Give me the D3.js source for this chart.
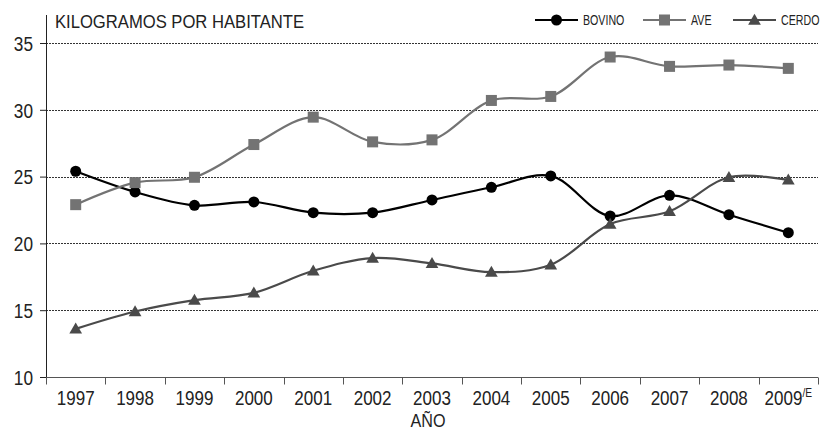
<!DOCTYPE html>
<html>
<head>
<meta charset="utf-8">
<script src="https://cdn.jsdelivr.net/npm/d3@7"></script>
<style>
  body { margin: 0; background: #fff; }
  text { font-family: "Liberation Sans", Arial, sans-serif; fill: #222; }
</style>
</head>
<body>
<div id="chart"></div>
<script>
// consumo per capita, kg por habitante
var years = ["1997", "1998", "1999", "2000", "2001", "2002", "2003", "2004", "2005", "2006", "2007", "2008", "2009"];
var bovino = [25.4, 23.85, 22.85, 23.1, 22.3, 22.3, 23.25, 24.2, 25.05, 22.05, 23.6, 22.15, 20.8];
var ave    = [22.9, 24.55, 24.95, 27.4, 29.45, 27.6, 27.75, 30.7, 31.0, 33.95, 33.25, 33.35, 33.1];
var cerdo  = [13.6, 14.9, 15.75, 16.3, 17.95, 18.9, 18.5, 17.85, 18.4, 21.45, 22.4, 24.95, 24.75];
var yTicks = [10, 15, 20, 25, 30, 35];

var series = [
  {name: "BOVINO", values: bovino, color: "#000", marker: "circle"},
  {name: "AVE", values: ave, color: "#737373", marker: "square"},
  {name: "CERDO", values: cerdo, color: "#4a4a4a", marker: "triangle"}
];

var margin = {top: 43, right: 4, bottom: 62, left: 46},
    width = 822 - margin.left - margin.right,
    height = 439 - margin.top - margin.bottom;

// squeeze text horizontally, the original uses a narrow face
function condense(sel, f) {
  sel.each(function() {
    var L = this.getComputedTextLength();
    d3.select(this).attr("textLength", L * f).attr("lengthAdjust", "spacingAndGlyphs");
  });
}

var svg = d3.select("#chart")
  .append("svg")
  .attr("width", 822)
  .attr("height", 439)
  .append("g")
  .attr("transform", "translate(" + margin.left + "," + margin.top + ")");

var x = d3.scaleBand()
  .domain(years)
  .range([0, width]);

var y = d3.scaleLinear()
  .domain([10, 35])
  .range([height, 0]);

// dotted gridlines
svg.selectAll(".grid")
  .data(yTicks.filter(d => d > 10))
  .enter().append("line")
  .attr("x1", 0)
  .attr("x2", width)
  .attr("y1", d => Math.round(y(d)) + 0.5)
  .attr("y2", d => Math.round(y(d)) + 0.5)
  .style("stroke", "#333")
  .style("stroke-dasharray", "2,1")
  .style("stroke-width", 1);

// y axis
var yAxis = svg.append("g")
  .call(d3.axisLeft(y).tickValues(yTicks).tickSize(6).tickPadding(7));
yAxis.select(".domain").attr("d", "M0.5," + (y(10) + 0.5) + "V-28").style("stroke", "#222");
yAxis.selectAll(".tick line").style("stroke", "#222");
yAxis.selectAll("text").style("font-size", "20px").attr("dy", "0.36em").style("fill", "#222");
condense(yAxis.selectAll("text"), 0.86);

// x axis
var xAxis = svg.append("g")
  .attr("transform", "translate(0," + (Math.round(y(10)) + 0.5) + ")");
xAxis.append("line")
  .attr("x1", 0).attr("x2", width)
  .style("stroke", "#555");
xAxis.selectAll(".xt")
  .data(years.concat(["end"]))
  .enter().append("line")
  .attr("x1", (d, i) => Math.round(i * x.step()) + 0.5)
  .attr("x2", (d, i) => Math.round(i * x.step()) + 0.5)
  .attr("y1", 0).attr("y2", 7)
  .style("stroke", "#555");
var xl = xAxis.selectAll(".xl")
  .data(years)
  .enter().append("text")
  .attr("x", d => x(d) + x.bandwidth() / 2)
  .attr("y", 27)
  .attr("text-anchor", "middle")
  .style("font-size", "20px");
xl.text(d => d);
xl.filter(d => d == "2009").append("tspan")
  .attr("dy", "-8")
  .style("font-size", "12px")
  .text("/E");
condense(xl, 0.85);

var xTitle = svg.append("text")
  .attr("x", width / 2 - 4)
  .attr("y", height + 50)
  .attr("text-anchor", "middle")
  .style("font-size", "19px")
  .text("AÑO");
condense(xTitle, 0.85);

svg.append("text")
  .attr("x", 9)
  .attr("y", -15)
  .style("font-size", "18.5px")
  .attr("textLength", 249)
  .attr("lengthAdjust", "spacingAndGlyphs")
  .text("KILOGRAMOS POR HABITANTE");

function drawMarker(g, type, color) {
  if (type == "circle") {
    g.append("circle").attr("r", 5.5).style("fill", color);
  } else if (type == "square") {
    g.append("rect").attr("x", -5.5).attr("y", -5.5).attr("width", 11).attr("height", 11).style("fill", color);
  } else {
    g.append("path").attr("d", d3.symbol(d3.symbolTriangle, 70)()).attr("transform", "translate(0,1)").style("fill", color);
  }
}

var line = d3.line()
  .x((d, i) => x(years[i]) + x.bandwidth() / 2)
  .y(d => y(d))
  .curve(d3.curveCatmullRom.alpha(0.5));

series.forEach(function(s) {
  svg.append("path")
    .datum(s.values)
    .attr("fill", "none")
    .attr("stroke", s.color)
    .attr("stroke-width", 2.2)
    .attr("d", line);

  s.values.forEach(function(v, i) {
    var g = svg.append("g")
      .attr("transform", "translate(" + (x(years[i]) + x.bandwidth() / 2) + "," + y(v) + ")");
    drawMarker(g, s.marker, s.color);
  });
});

// legend
var legendX = [489, 597, 687];
series.forEach(function(s, i) {
  var lg = svg.append("g")
    .attr("transform", "translate(" + legendX[i] + "," + (-23) + ")");
  lg.append("line")
    .attr("x1", 0).attr("x2", 43)
    .style("stroke", s.color)
    .style("stroke-width", 2);
  var m = lg.append("g").attr("transform", "translate(21.5,0)");
  drawMarker(m, s.marker, s.color);
  var t = lg.append("text")
    .attr("x", 48)
    .attr("y", 5)
    .style("font-size", "14px")
    .text(s.name);
  condense(t, 0.76);
});
</script>
</body>
</html>
